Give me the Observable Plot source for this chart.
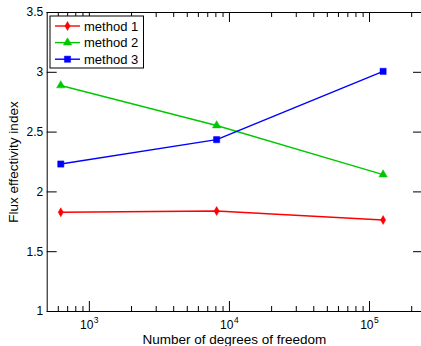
<!DOCTYPE html>
<html>
<head>
<meta charset="utf-8">
<script src="https://cdn.jsdelivr.net/npm/d3@7"></script>
<script src="https://cdn.jsdelivr.net/npm/@observablehq/plot@0.6"></script>
<style>
  html, body { margin: 0; padding: 0; background: white; }
  #chart { position: relative; width: 421px; height: 346px; overflow: hidden; }
</style>
</head>
<body>
<div id="chart"></div>
<script>
// ---- data ----
const dof = [625, 8100, 125000];
const method1 = [1.83, 1.84, 1.765];
const method2 = [2.89, 2.555, 2.145];
const method3 = [2.233, 2.437, 3.008];
const seriesNames = ["method 1", "method 2", "method 3"];
const yTicks = [1, 1.5, 2, 2.5, 3, 3.5];
const xMajor = [1e3, 1e4, 1e5];
const xExponents = ["3", "4", "5"];
const xMinor = [600, 700, 800, 900,
  2000, 3000, 4000, 5000, 6000, 7000, 8000, 9000,
  20000, 30000, 40000, 50000, 60000, 70000, 80000, 90000,
  200000];
const xLabel = "Number of degrees of freedom";
const yLabel = "Flux effectivity index";

// ---- styles ----
const colors = ["#ff0000", "#00c800", "#0000ff"];
const symbols = ["diamond", "triangle", "square"];
const radii = [2.7, 3.1, 3.5];

const W = 421, Hh = 346;
const mt = 12, mb = 35, ml = 46.7, mr = 0;
const FH = Hh - mt - mb, FW = W - ml - mr;

const rows = [];
[method1, method2, method3].forEach((vals, s) => {
  vals.forEach((v, i) => rows.push({series: seriesNames[s], x: dof[i], y: v, s}));
});

const marks = [];
// axis lines
marks.push(Plot.ruleY([1], {stroke: "black"}));
marks.push(Plot.ruleY([3.5], {stroke: "black"}));
marks.push(Plot.ruleX([500], {stroke: "black"}));
// x ticks (inward) bottom & top
marks.push(Plot.ruleX(xMajor, {x: d => d, insetTop: FH - 10, stroke: "black"}));
marks.push(Plot.ruleX(xMinor, {x: d => d, insetTop: FH - 5, stroke: "black"}));
marks.push(Plot.ruleX(xMajor, {x: d => d, insetBottom: FH - 10, stroke: "black"}));
marks.push(Plot.ruleX(xMinor, {x: d => d, insetBottom: FH - 5, stroke: "black"}));
// y ticks (inward) left & right
marks.push(Plot.ruleY(yTicks, {y: d => d, insetRight: FW - 10, stroke: "black"}));
marks.push(Plot.ruleY(yTicks, {y: d => d, insetLeft: FW - 8, stroke: "black"}));
// y tick labels
marks.push(Plot.axisY(yTicks, {tickSize: 0, tickPadding: 4, tickFormat: d => String(d), label: null, fontSize: 12, fill: "black"}));
// x tick labels 10^n
marks.push(Plot.text(xMajor, {x: d => d, text: () => "10", frameAnchor: "bottom", lineAnchor: "middle", textAnchor: "end", dx: 4, dy: 14, fontSize: 12, fill: "black"}));
marks.push(Plot.text(xMajor, {x: d => d, text: (d, i) => xExponents[i], frameAnchor: "bottom", lineAnchor: "middle", textAnchor: "start", dx: 4.5, dy: 9, fontSize: 8.5, fill: "black"}));
// axis titles
marks.push(Plot.text([xLabel], {text: d => d, frameAnchor: "bottom", lineAnchor: "middle", textAnchor: "middle", dy: 28, fontSize: 13.5, fill: "black"}));
marks.push(Plot.text([yLabel], {text: d => d, frameAnchor: "left", lineAnchor: "middle", textAnchor: "middle", rotate: -90, dx: -34, fontSize: 13.5, fill: "black"}));
// series
seriesNames.forEach((name, s) => {
  const data = rows.filter(r => r.s === s);
  marks.push(Plot.line(data, {x: "x", y: "y", stroke: colors[s], strokeWidth: 1.4}));
  marks.push(Plot.dot(data, {x: "x", y: "y", symbol: symbols[s], r: radii[s], fill: colors[s], stroke: colors[s], strokeWidth: 0.5}));
});

const chart = Plot.plot({
  width: W, height: Hh,
  marginTop: mt, marginBottom: mb, marginLeft: ml, marginRight: mr,
  style: {fontFamily: "'Liberation Sans', Arial, Helvetica, sans-serif", background: "white", overflow: "visible"},
  x: {type: "log", domain: [500, 2.35e5], axis: null},
  y: {domain: [1, 3.5], axis: null},
  marks
});
document.getElementById("chart").appendChild(chart);

// ---- legend (inside the plot, top-left) ----
const svg = d3.select(chart);
const lg = svg.append("g").attr("transform", "translate(50,16)").attr("text-anchor", "start");
lg.append("rect").attr("x", 0).attr("y", 0).attr("width", 93.5).attr("height", 52)
  .attr("fill", "white").attr("stroke", "black").attr("stroke-width", 1);
const sym = [d3.symbolDiamond, d3.symbolTriangle, d3.symbolSquare];
seriesNames.forEach((name, s) => {
  const gy = 10 + s * 16.6;
  const g = lg.append("g").attr("transform", `translate(0,${gy})`);
  g.append("line").attr("x1", 5).attr("x2", 30).attr("y1", 0).attr("y2", 0)
    .attr("stroke", colors[s]).attr("stroke-width", 1.4);
  g.append("path").attr("transform", "translate(17.5,0)")
    .attr("d", d3.symbol(sym[s], Math.PI * radii[s] * radii[s])())
    .attr("fill", colors[s]).attr("stroke", colors[s]).attr("stroke-width", 0.5);
  g.append("text").attr("x", 34).attr("y", 0).attr("dy", "0.35em")
    .attr("text-anchor", "start")
    .attr("font-size", 13).attr("fill", "black").text(name);
});
</script>
</body>
</html>
